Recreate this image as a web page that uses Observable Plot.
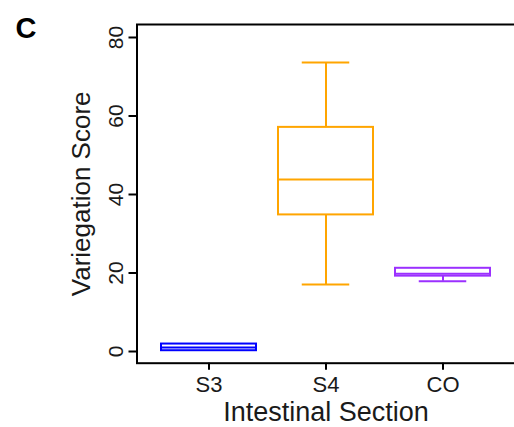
<!DOCTYPE html>
<html>
<head>
<meta charset="utf-8">
<script src="https://cdn.jsdelivr.net/npm/d3@7"></script>
<script src="https://cdn.jsdelivr.net/npm/@observablehq/plot@0.6"></script>
<style>
  html, body { margin: 0; padding: 0; background: white; overflow: hidden; }
  #chart svg { display: block; }
</style>
</head>
<body>
<div id="chart"></div>
<script>
// Data
const sections = ["S3", "S4", "CO"];
const colors = ["#0000ff", "#ffa500", "#9b30ff"];
const lowWhisker = [0.2, 17.1, 17.9];
const q1Values = [0.2, 34.8, 19.2];
const medianValues = [1.0, 43.8, 19.8];
const q3Values = [1.9, 57.1, 21.2];
const highWhisker = [1.9, 73.6, 21.2];
const yTicks = [0, 20, 40, 60, 80];
const panelLetter = "C";
const xTitle = "Intestinal Section";
const yTitle = "Variegation Score";

const data = sections.map((s, i) => ({
  section: s,
  lo: lowWhisker[i],
  q1: q1Values[i],
  median: medianValues[i],
  q3: q3Values[i],
  hi: highWhisker[i]
}));

const font = "'Liberation Sans', Arial, Helvetica, sans-serif";
const textColor = "#1a1a1a";

const chart = Plot.plot({
  width: 514,
  height: 427,
  marginLeft: 136.5,
  marginRight: -0.5,
  marginTop: 24,
  marginBottom: 64.3,
  style: { fontFamily: font, background: "white", overflow: "visible" },
  x: { type: "band", domain: sections, paddingInner: 0.188, paddingOuter: 0.209, axis: null },
  y: { domain: [-2.98, 83.31], axis: null },
  color: { domain: sections, range: colors },
  marks: [
    // whiskers
    Plot.ruleX(data.filter(d => d.hi > d.q3), { x: "section", y1: "q3", y2: "hi", stroke: "section", strokeWidth: 2 }),
    Plot.ruleX(data.filter(d => d.lo < d.q1), { x: "section", y1: "lo", y2: "q1", stroke: "section", strokeWidth: 2 }),
    Plot.tickY(data.filter(d => d.hi > d.q3), { x: "section", y: "hi", stroke: "section", strokeWidth: 2, insetLeft: 23.75, insetRight: 23.75 }),
    Plot.tickY(data.filter(d => d.lo < d.q1), { x: "section", y: "lo", stroke: "section", strokeWidth: 2, insetLeft: 23.75, insetRight: 23.75 }),
    // boxes
    Plot.barY(data, { x: "section", y1: "q1", y2: "q3", fill: "white", stroke: "section", strokeWidth: 2 }),
    Plot.tickY(data, { x: "section", y: "median", stroke: "section", strokeWidth: 2 }),
    // frame
    Plot.frame({ stroke: "black", strokeWidth: 2 }),
    // y axis ticks
    Plot.axisY(yTicks, { tickSize: 8, stroke: "black", strokeWidth: 2, fill: "none", label: null }),
    // y tick labels (rotated)
    Plot.text(yTicks, {
      y: d => d, text: d => String(d), frameAnchor: "left", dx: -14.5,
      rotate: -90, textAnchor: "middle", lineAnchor: "bottom",
      fontSize: 21, fill: textColor
    }),
    // x axis
    Plot.axisX(sections, { tickSize: 7, tickPadding: 6, stroke: "black", strokeWidth: 2, fontSize: 22, fill: textColor, label: null }),
    // axis titles
    Plot.text([xTitle], {
      text: d => d, frameAnchor: "bottom", dy: 39, lineAnchor: "top",
      textAnchor: "middle", fontSize: 27, fill: textColor
    }),
    Plot.text([yTitle], {
      text: d => d, frameAnchor: "left", dx: -47.5, rotate: -90,
      textAnchor: "middle", lineAnchor: "bottom", fontSize: 26, fill: textColor
    }),
    // panel letter
    Plot.text([panelLetter], {
      text: d => d, frameAnchor: "top-left", dx: -121.5, dy: 13.7,
      textAnchor: "start", lineAnchor: "bottom", fontSize: 29, fontWeight: "bold", fill: "black"
    })
  ]
});

document.getElementById("chart").appendChild(chart);
</script>
</body>
</html>
